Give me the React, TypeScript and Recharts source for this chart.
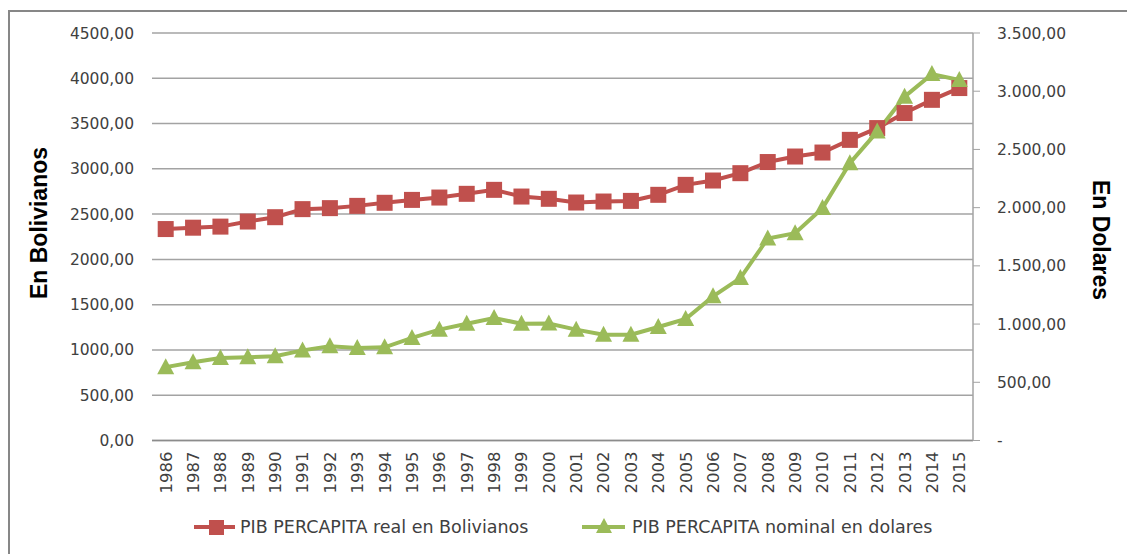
import { LineChart, Line, XAxis, YAxis, CartesianGrid, Legend } from 'recharts'

const years = [
  '1986', '1987', '1988', '1989', '1990', '1991', '1992', '1993', '1994', '1995',
  '1996', '1997', '1998', '1999', '2000', '2001', '2002', '2003', '2004', '2005',
  '2006', '2007', '2008', '2009', '2010', '2011', '2012', '2013', '2014', '2015',
]

// PIB per capita real, en Bolivianos (eje izquierdo)
const realBolivianos = [
  2335, 2350, 2362, 2418, 2466, 2555, 2566, 2591, 2625, 2657,
  2683, 2724, 2768, 2694, 2669, 2628, 2639, 2646, 2713, 2823,
  2871, 2952, 3075, 3136, 3180, 3320, 3450, 3616, 3762, 3892,
]

// PIB per capita nominal, en dolares (eje derecho)
const nominalDolares = [
  630, 672, 709, 715, 723, 774, 809, 795, 800, 881,
  952, 1003, 1052, 1003, 1005, 952, 909, 909, 975, 1044,
  1238, 1395, 1735, 1781, 1996, 2382, 2653, 2953, 3147, 3096,
]

const leftTicks = [0, 500, 1000, 1500, 2000, 2500, 3000, 3500, 4000, 4500]
const rightTicks = [0, 500, 1000, 1500, 2000, 2500, 3000, 3500]

const RED = '#C0504D'
const GREEN = '#9BBB59'
const TEXT = '#404040'
const FONT = '"DejaVu Sans", sans-serif'
const TITLE_FONT = '"Liberation Sans", Arial, sans-serif'

const data = years.map((year, i) => ({
  year,
  real: realBolivianos[i],
  nominal: nominalDolares[i],
}))

const fmtLeft = (v: number) => `${v},00`
const fmtRight = (v: number) => {
  if (v === 0) return '-'
  const s = String(v)
  const withDots = s.length > 3 ? s.slice(0, s.length - 3) + '.' + s.slice(-3) : s
  return `${withDots},00`
}

const YearTick = ({ x, y, payload }: any) => (
  <text
    x={x}
    y={y}
    transform={`rotate(-90 ${x} ${y})`}
    textAnchor="end"
    dy="0.36em"
    fill={TEXT}
    fontSize={16.5}
    fontFamily={FONT}
  >
    {payload.value}
  </text>
)

const SquareDot = ({ cx, cy, index }: any) => (
  <rect key={`sq-${index}`} x={cx - 8} y={cy - 8} width={16} height={16} fill={RED} />
)

const TriangleDot = ({ cx, cy, index }: any) => (
  <polygon
    key={`tr-${index}`}
    points={`${cx},${cy - 9} ${cx + 8.5},${cy + 7} ${cx - 8.5},${cy + 7}`}
    fill={GREEN}
  />
)

const LeftTitle = ({ viewBox }: any) => {
  const cx = 29
  const cy = viewBox.y + 190
  return (
    <text
      x={cx}
      y={cy}
      transform={`rotate(-90 ${cx} ${cy})`}
      textAnchor="middle"
      dominantBaseline="central"
      fontFamily={TITLE_FONT}
      fontWeight="bold"
      fontSize={23}
      fill="#000"
    >
      En Bolivianos
    </text>
  )
}

const RightTitle = ({ viewBox }: any) => {
  const cx = viewBox.x + 128
  const cy = viewBox.y + 207
  return (
    <text
      x={cx}
      y={cy}
      transform={`rotate(90 ${cx} ${cy})`}
      textAnchor="middle"
      dominantBaseline="central"
      fontFamily={TITLE_FONT}
      fontWeight="bold"
      fontSize={23}
      fill="#000"
    >
      En Dolares
    </text>
  )
}

const LegendBox = () => (
  <svg width={1125} height={30} style={{ display: 'block' }}>
    <line x1={184} x2={225} y1={15} y2={15} stroke={RED} strokeWidth={4} />
    <rect x={199} y={8} width={15} height={15} fill={RED} />
    <text x={230} y={15} dominantBaseline="central" fontSize={17.5} fontFamily={FONT} fill={TEXT}>
      PIB PERCAPITA real en Bolivianos
    </text>
    <line x1={572} x2={615} y1={15} y2={15} stroke={GREEN} strokeWidth={4} />
    <polygon points="594,6 602,21 586,21" fill={GREEN} />
    <text x={622} y={15} dominantBaseline="central" fontSize={17.5} fontFamily={FONT} fill={TEXT}>
      PIB PERCAPITA nominal en dolares
    </text>
  </svg>
)

export default function App() {
  return (
    <div style={{ paddingTop: 2 }}>
      <div
        style={{
          width: 1125,
          height: 542,
          borderTop: '2px solid #878787',
          borderLeft: '2px solid #878787',
        }}
      >
        <LineChart
          width={1125}
          height={542}
          data={data}
          margin={{ top: 21, right: 0, bottom: 0, left: 0 }}
        >
          <CartesianGrid yAxisId="left" vertical={false} stroke="#a3a3a3" strokeWidth={1.5} />
          <XAxis
            dataKey="year"
            height={83.5}
            interval={0}
            padding={{ left: 13.7, right: 13.7 }}
            axisLine={{ stroke: '#8c8c8c', strokeWidth: 1.5 }}
            tickLine={false}
            tickSize={0}
            tickMargin={11}
            tick={<YearTick />}
          />
          <YAxis
            yAxisId="left"
            orientation="left"
            width={142}
            domain={[0, 4500]}
            ticks={leftTicks}
            tickFormatter={fmtLeft}
            axisLine={false}
            tickLine={false}
            tickMargin={12}
            tick={{ fill: TEXT, fontSize: 15.5, fontFamily: FONT }}
            label={<LeftTitle />}
          />
          <YAxis
            yAxisId="right"
            orientation="right"
            width={162}
            domain={[0, 3500]}
            ticks={rightTicks}
            tickFormatter={fmtRight}
            axisLine={{ stroke: '#a3a3a3', strokeWidth: 1.5 }}
            tickLine={{ stroke: '#a3a3a3' }}
            tickSize={7}
            tickMargin={17}
            tick={{ fill: TEXT, fontSize: 15.5, fontFamily: FONT, textAnchor: 'start' }}
            label={<RightTitle />}
          />
          <Legend
            content={<LegendBox />}
            verticalAlign="bottom"
            wrapperStyle={{ position: 'absolute', top: 500, left: 0, width: 1125, height: 30 }}
          />
          <Line
            yAxisId="left"
            type="linear"
            dataKey="real"
            name="PIB PERCAPITA real en Bolivianos"
            stroke={RED}
            strokeWidth={4}
            dot={SquareDot}
            activeDot={false}
            isAnimationActive={false}
          />
          <Line
            yAxisId="right"
            type="linear"
            dataKey="nominal"
            name="PIB PERCAPITA nominal en dolares"
            stroke={GREEN}
            strokeWidth={4}
            dot={TriangleDot}
            activeDot={false}
            isAnimationActive={false}
          />
        </LineChart>
      </div>
    </div>
  )
}
